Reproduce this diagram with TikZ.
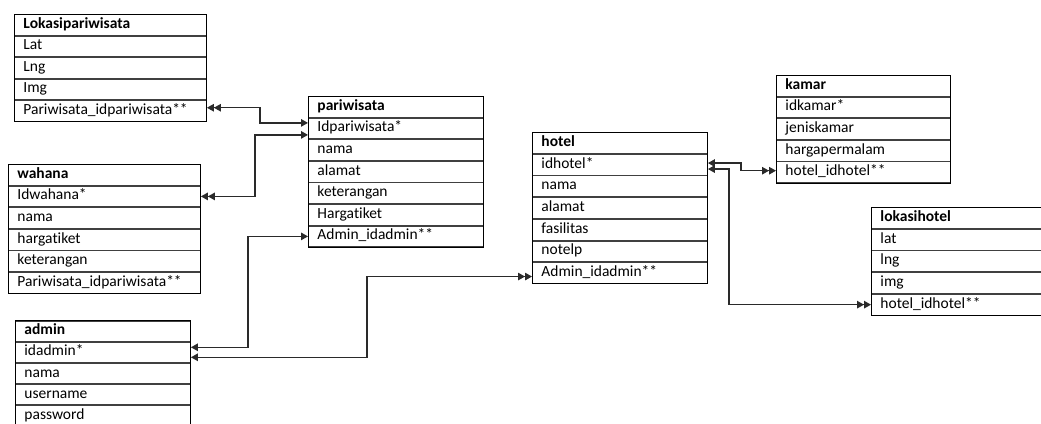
\documentclass[tikz,border=0pt]{standalone}
\usepackage{fontspec}
\setmainfont[Ligatures=NoCommon]{Carlito}
\usetikzlibrary{arrows.meta}
\definecolor{rowline}{HTML}{404040}
\definecolor{linkline}{HTML}{2A2A2A}
\tikzset{
  >={Triangle[length=7pt,width=7.5pt]},
  cell/.style={draw=rowline, line width=0.9pt, anchor=north west, inner xsep=9pt, inner ysep=0pt,
    text height=10.5pt, text depth=3.5pt, align=left, font=\fontsize{15.5}{16}\selectfont},
  wide/.style={text width=174pt},
  narrow/.style={text width=157pt},
  frame/.style={draw=black, line width=1pt},
  link/.style={draw=linkline, line width=1.3pt},
}
\begin{document}
\begin{tikzpicture}[x=1pt,y=-1pt]
\useasboundingbox (0,0) rectangle (1041,423);
\clip (0,0) rectangle (1041,423);

% Lokasipariwisata
\node[cell,wide,minimum height=20.6pt] (lp0) at (14,14) {\textbf{Lokasipariwisata}};
\node[cell,wide,minimum height=20.6pt] (lp1) at (lp0.south west) {Lat};
\node[cell,wide,minimum height=20.6pt] (lp2) at (lp1.south west) {Lng};
\node[cell,wide,minimum height=20.6pt] (lp3) at (lp2.south west) {Img};
\node[cell,wide,minimum height=20.6pt] (lp4) at (lp3.south west) {Pariwisata\_idpariwisata**};
\draw[frame] (lp0.north west) rectangle (lp4.south east);

% pariwisata
\node[cell,narrow,minimum height=20.7pt] (pw0) at (308,96) {\textbf{pariwisata}};
\node[cell,narrow,minimum height=20.7pt] (pw1) at (pw0.south west) {Idpariwisata*};
\node[cell,narrow,minimum height=20.7pt] (pw2) at (pw1.south west) {nama};
\node[cell,narrow,minimum height=20.7pt] (pw3) at (pw2.south west) {alamat};
\node[cell,narrow,minimum height=20.7pt] (pw4) at (pw3.south west) {keterangan};
\node[cell,narrow,minimum height=20.7pt] (pw5) at (pw4.south west) {Hargatiket};
\node[cell,narrow,minimum height=20.7pt] (pw6) at (pw5.south west) {Admin\_idadmin**};
\draw[frame] (pw0.north west) rectangle (pw6.south east);

% wahana
\node[cell,wide,minimum height=20.7pt] (wh0) at (8,164) {\textbf{wahana}};
\node[cell,wide,minimum height=20.7pt] (wh1) at (wh0.south west) {Idwahana*};
\node[cell,wide,minimum height=20.7pt] (wh2) at (wh1.south west) {nama};
\node[cell,wide,minimum height=20.7pt] (wh3) at (wh2.south west) {hargatiket};
\node[cell,wide,minimum height=20.7pt] (wh4) at (wh3.south west) {keterangan};
\node[cell,wide,minimum height=20.7pt] (wh5) at (wh4.south west) {Pariwisata\_idpariwisata**};
\draw[frame] (wh0.north west) rectangle (wh5.south east);

% admin
\node[cell,narrow,minimum height=20.3pt] (ad0) at (15,320.5) {\textbf{admin}};
\node[cell,narrow,minimum height=20.3pt] (ad1) at (ad0.south west) {idadmin*};
\node[cell,narrow,minimum height=20.3pt] (ad2) at (ad1.south west) {nama};
\node[cell,narrow,minimum height=20.3pt] (ad3) at (ad2.south west) {username};
\node[cell,narrow,minimum height=20.3pt] (ad4) at (ad3.south west) {password};
\draw[frame] (ad0.north west) rectangle (ad4.south east);

% hotel
\node[cell,narrow,minimum height=20.8pt] (ht0) at (532,132) {\textbf{hotel}};
\node[cell,narrow,minimum height=20.8pt] (ht1) at (ht0.south west) {idhotel*};
\node[cell,narrow,minimum height=20.8pt] (ht2) at (ht1.south west) {nama};
\node[cell,narrow,minimum height=20.8pt] (ht3) at (ht2.south west) {alamat};
\node[cell,narrow,minimum height=20.8pt] (ht4) at (ht3.south west) {fasilitas};
\node[cell,narrow,minimum height=20.8pt] (ht5) at (ht4.south west) {notelp};
\node[cell,narrow,minimum height=20.8pt] (ht6) at (ht5.south west) {Admin\_idadmin**};
\draw[frame] (ht0.north west) rectangle (ht6.south east);

% kamar
\node[cell,text width=156pt,minimum height=20.7pt] (km0) at (776,75) {\textbf{kamar}};
\node[cell,text width=156pt,minimum height=20.7pt] (km1) at (km0.south west) {idkamar*};
\node[cell,text width=156pt,minimum height=20.7pt] (km2) at (km1.south west) {jeniskamar};
\node[cell,text width=156pt,minimum height=20.7pt] (km3) at (km2.south west) {hargapermalam};
\node[cell,text width=156pt,minimum height=20.7pt] (km4) at (km3.south west) {hotel\_idhotel**};
\draw[frame] (km0.north west) rectangle (km4.south east);

% lokasihotel
\node[cell,text width=162pt,minimum height=20.8pt] (lh0) at (871,207) {\textbf{lokasihotel}};
\node[cell,text width=162pt,minimum height=20.8pt] (lh1) at (lh0.south west) {lat};
\node[cell,text width=162pt,minimum height=20.8pt] (lh2) at (lh1.south west) {lng};
\node[cell,text width=162pt,minimum height=20.8pt] (lh3) at (lh2.south west) {img};
\node[cell,text width=162pt,minimum height=20.8pt] (lh4) at (lh3.south west) {hotel\_idhotel**};
\draw[frame] (lh0.north west) rectangle (lh4.south east);

% relations
\draw[link,<<->] ([yshift=3pt]lp4.east) -- ++(53,0) |- ([yshift=5.5pt]pw1.west);
\draw[link,<<->] (wh1.east) -- ++(54,0) |- ([yshift=-6.5pt]pw1.west);
\draw[link,<->] ([yshift=5pt]ad1.east) -- ++(57,0) |- (pw6.west);
\draw[link,<->>] ([yshift=-5pt]ad1.east) -- ++(176,0) |- ([yshift=-3.5pt]ht6.west);
\draw[link,<->>] ([yshift=1.5pt]ht1.east) -- ++(33,0) |- ([yshift=1.5pt]km4.west);
\draw[link,<->>] ([yshift=-4.5pt]ht1.east) -- ++(21,0) |- (lh4.west);
\end{tikzpicture}
\end{document}
